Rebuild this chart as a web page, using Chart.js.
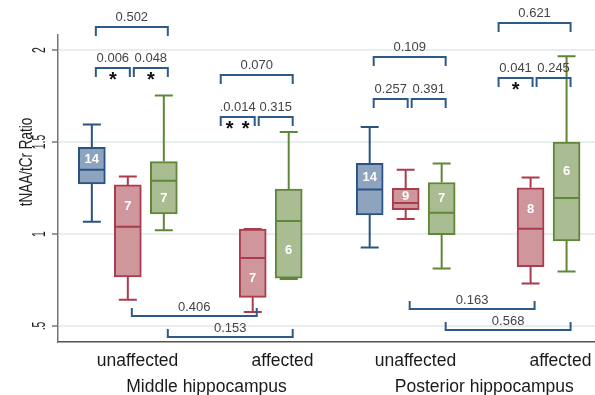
<!DOCTYPE html>
<html>
<head>
<meta charset="utf-8">
<script src="https://cdn.jsdelivr.net/npm/chart.js@4.4.1/dist/chart.umd.min.js"></script>
<style>
  html, body { margin: 0; padding: 0; background: #fff; }
</style>
</head>
<body>
<canvas id="box-chart" width="595" height="395"></canvas>
<script>
// Categories
const sides = ['unaffected', 'affected', 'unaffected', 'affected'];
const regions = ['Middle hippocampus', 'Posterior hippocampus'];
const seriesNames = ['Group 1', 'Group 2', 'Group 3'];

// Box stats per group: [min, q1, median, q3, max], null = no box
const blueStats = [[1.067, 1.273, 1.349, 1.471, 1.595], null, [0.927, 1.104, 1.242, 1.385, 1.582], null];
const redStats = [[0.643, 0.767, 1.040, 1.267, 1.313], [0.576, 0.656, 0.869, 1.027, 1.027], [1.082, 1.133, 1.169, 1.249, 1.349], [0.731, 0.823, 1.029, 1.251, 1.307]];
const greenStats = [[1.020, 1.109, 1.289, 1.394, 1.753], [0.755, 0.760, 1.071, 1.245, 1.554], [0.813, 0.997, 1.115, 1.280, 1.384], [0.796, 0.963, 1.196, 1.500, 1.967]];

// Sample sizes
const blueN = [14, null, 14, null];
const redN = [7, 7, 9, 8];
const greenN = [7, 6, 7, 6];

// Y axis
const yTickValues = [0.5, 1, 1.5, 2];
const yTickLabels = ['.5', '1', '1.5', '2'];
const yTitle = 'tNAA/tCr Ratio';

// Comparisons: [series a, group a, series b, group b, bracket level, p text, stars]
const comparisons = [
    [0, 0, 2, 0, 2.125, '0.502', 0],
    [0, 0, 1, 0, 1.902, '0.006', 1],
    [1, 0, 2, 0, 1.902, '0.048', 1],
    [0, 1, 2, 1, 1.864, '0.070', 0],
    [0, 1, 1, 1, 1.634, '.0.014', 2],
    [1, 1, 2, 1, 1.634, '0.315', 0],
    [0, 2, 2, 2, 1.962, '0.109', 0],
    [0, 2, 1, 2, 1.733, '0.257', 0],
    [1, 2, 2, 2, 1.733, '0.391', 0],
    [0, 3, 2, 3, 2.147, '0.621', 0],
    [0, 3, 1, 3, 1.847, '0.041', 1],
    [1, 3, 2, 3, 1.847, '0.245', 0],
    [1, 0, 1, 1, 0.554, '0.406', 0],
    [2, 0, 2, 1, 0.440, '0.153', 0],
    [1, 2, 1, 3, 0.592, '0.163', 0],
    [2, 2, 2, 3, 0.478, '0.568', 0]
];

const allStats = [blueStats, redStats, greenStats];
const allN = [blueN, redN, greenN];
const palette = [
    { fill: '#8ea3bd', line: '#2a5382' },
    { fill: '#cf969c', line: '#aa3c4b' },
    { fill: '#aabc91', line: '#5f8737' }
];

// Layout (x in box slots)
const X_FIRST = 1.94;
const SIDE_STEP = 3.47;
const REGION_STEP = 7.72;
const LABEL_SHIFT = [0.27, 0.83];
const BOX_W = 27;
const FONT = '"Liberation Sans", Arial, sans-serif';

function groupX(g) {
    return X_FIRST + (g % 2) * SIDE_STEP + Math.floor(g / 2) * REGION_STEP;
}
function boxX(s, g) {
    return groupX(g) + (s - 1);
}

// rotated, squeezed text (reads bottom to top)
function drawRotated(ctx, text, px, py, font, squeeze) {
    ctx.save();
    ctx.translate(px, py);
    ctx.rotate(-Math.PI / 2);
    ctx.scale(squeeze, 1);
    ctx.font = font;
    ctx.textAlign = 'center';
    ctx.textBaseline = 'middle';
    ctx.fillText(text, 0, 0);
    ctx.restore();
}

const boxExtras = {
    id: 'boxExtras',
    afterDatasetsDraw(chart) {
        const { ctx, scales: { x, y } } = chart;
        ctx.save();
        allStats.forEach((stats, s) => {
            stats.forEach((st, g) => {
                if (!st) return;
                const cx = x.getPixelForValue(boxX(s, g));
                const [mn, q1, md, q3, mx] = st.map(v => y.getPixelForValue(v));
                const half = BOX_W / 2, cap = 9;
                ctx.strokeStyle = palette[s].line;
                ctx.lineWidth = 2;
                ctx.beginPath();
                ctx.moveTo(cx, q3); ctx.lineTo(cx, mx);
                ctx.moveTo(cx - cap, mx); ctx.lineTo(cx + cap, mx);
                ctx.moveTo(cx, q1); ctx.lineTo(cx, mn);
                ctx.moveTo(cx - cap, mn); ctx.lineTo(cx + cap, mn);
                ctx.moveTo(cx - half + 1, md); ctx.lineTo(cx + half - 1, md);
                ctx.stroke();

                // n inside the box
                const upper = md - q3, lower = q1 - md;
                const ly = lower > 1.3 * upper ? (md + q1) / 2 : (q3 + md) / 2;
                ctx.fillStyle = '#fff';
                ctx.font = 'bold 13px ' + FONT;
                ctx.textAlign = 'center';
                ctx.textBaseline = 'middle';
                ctx.fillText(String(allN[s][g]), cx, ly + 1);
            });
        });
        ctx.restore();
    },
    afterDraw(chart) {
        const { ctx, chartArea, scales: { x, y } } = chart;
        ctx.save();

        // significance brackets
        comparisons.forEach(([sa, ga, sb, gb, level, text, stars]) => {
            let x1 = x.getPixelForValue(boxX(sa, ga)) + 4;
            let x2 = x.getPixelForValue(boxX(sb, gb)) + 4;
            if (ga === gb && sb - sa === 1) {
                if (sa === 1) x1 += 2;
                if (sb === 1) x2 -= 2;
            }
            const lows = [allStats[sa][ga], allStats[sb][gb]].filter(Boolean).map(st => st[0]);
            const below = level < Math.min(...lows);
            const ly = Math.round(y.getPixelForValue(level));
            const tick = below ? -8 : 9;
            ctx.strokeStyle = '#2e5a88';
            ctx.lineWidth = 2;
            ctx.beginPath();
            ctx.moveTo(x1, ly + tick);
            ctx.lineTo(x1, ly);
            ctx.lineTo(x2, ly);
            ctx.lineTo(x2, ly + tick);
            ctx.stroke();

            ctx.fillStyle = '#444';
            ctx.font = '13px ' + FONT;
            ctx.textAlign = 'center';
            ctx.textBaseline = 'middle';
            const mid = (x1 + x2) / 2;
            ctx.fillText(text, mid, ly - (below ? 9 : 10));

            if (stars) {
                ctx.fillStyle = '#111';
                ctx.font = 'bold 20px ' + FONT;
                ctx.textBaseline = 'alphabetic';
                for (let k = 0; k < stars; k++) {
                    const sx = mid + (k - (stars - 1) / 2) * 16;
                    ctx.fillText('*', sx, ly + 18);
                }
            }
        });

        // y tick labels and title
        ctx.fillStyle = '#222';
        yTickValues.forEach((v, i) => {
            drawRotated(ctx, yTickLabels[i], 40, y.getPixelForValue(v), '19px ' + FONT, 0.55);
        });
        drawRotated(ctx, yTitle, 27, chartArea.top + 127, '18px ' + FONT, 0.75);

        // x category and region labels
        ctx.fillStyle = '#1a1a1a';
        ctx.font = '17.5px ' + FONT;
        ctx.textAlign = 'center';
        ctx.textBaseline = 'alphabetic';
        sides.forEach((label, g) => {
            ctx.fillText(label, x.getPixelForValue(groupX(g) + LABEL_SHIFT[g % 2]), chartArea.bottom + 24);
        });
        regions.forEach((label, r) => {
            const cx = (groupX(2 * r) + groupX(2 * r + 1)) / 2 + 0.45;
            ctx.fillText(label, x.getPixelForValue(cx), chartArea.bottom + 50);
        });
        ctx.restore();
    }
};

const chartData = {
    datasets: allStats.map((stats, s) => ({
        label: seriesNames[s],
        data: stats.map((st, g) => st ? { x: boxX(s, g), y: [st[1], st[3]] } : null).filter(Boolean),
        backgroundColor: palette[s].fill,
        borderColor: palette[s].line,
        borderWidth: 2,
        borderSkipped: false,
        barThickness: BOX_W,
        grouped: false
    }))
};

const chartOptions = {
    responsive: false,
    animation: false,
    layout: { padding: { top: 35, left: 0, right: 0, bottom: 0 } },
    plugins: {
        legend: { display: false },
        tooltip: { enabled: false }
    },
    scales: {
        x: {
            type: 'linear',
            min: 0,
            max: 14.92,
            offset: false,
            grid: { display: false },
            border: { display: true, color: '#555', width: 1.5 },
            ticks: { display: false },
            afterFit(scale) { scale.height = 53; }
        },
        y: {
            min: 0.413,
            max: 2.082,
            grid: { color: '#e6eef0', lineWidth: 2, tickColor: '#777', tickLength: 6, tickWidth: 1.5 },
            border: { display: true, color: '#777', width: 1.5 },
            ticks: { display: false },
            afterBuildTicks(scale) { scale.ticks = yTickValues.map(v => ({ value: v })); },
            afterFit(scale) { scale.width = 58; }
        }
    }
};

new Chart(document.getElementById('box-chart'), {
    type: 'bar',
    data: chartData,
    options: chartOptions,
    plugins: [boxExtras]
});
</script>
</body>
</html>
